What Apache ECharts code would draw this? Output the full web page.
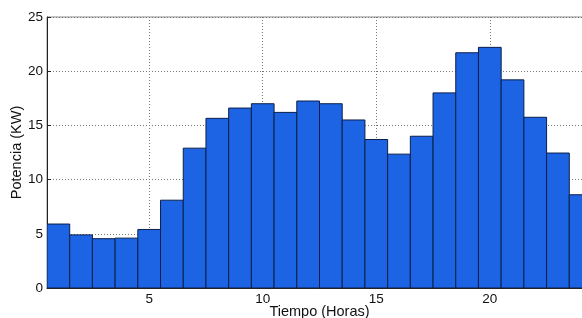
<!DOCTYPE html>
<html>
<head>
<meta charset="utf-8">
<script src="https://cdn.jsdelivr.net/npm/echarts@6/dist/echarts.min.js"></script>
<style>
  html, body { margin: 0; padding: 0; background: #fff; }
  #main { width: 582px; height: 318px; }
</style>
</head>
<body>
<div id="main"></div>
<script>
var hours = [1, 2, 3, 4, 5, 6, 7, 8, 9, 10, 11, 12, 13, 14, 15, 16, 17, 18, 19, 20, 21, 22, 23, 24];
var potencia = [5.9, 4.9, 4.55, 4.6, 5.4, 8.1, 12.9, 15.65, 16.6, 17.0, 16.2, 17.25, 17.0, 15.5, 13.7, 12.35, 14.0, 18.0, 21.7, 22.2, 19.2, 15.75, 12.45, 8.6];
var xTicks = [5, 10, 15, 20];

var chartDom = document.getElementById("main");
var myChart = echarts.init(chartDom);
var option;

var font = "Liberation Sans, Arial, Helvetica, sans-serif";

var data = hours.map(function (h, i) { return [h, potencia[i]]; });

option = {
  animation: false,
  grid: {
    left: 47, right: -10, top: 17, bottom: 30,
    containLabel: false, outerBoundsMode: "none",
    show: true, borderColor: "#8a8a8a", borderWidth: 1, backgroundColor: "transparent"
  },
  xAxis: {
    type: "value",
    min: 0.5,
    max: 24.5,
    interval: 5,
    name: "Tiempo (Horas)",
    nameLocation: "middle",
    nameGap: 16,
    nameMoveOverlap: false,
    nameTextStyle: { fontFamily: font, fontSize: 14.5, color: "#111" },
    axisLine: { show: true, onZero: false, lineStyle: { color: "#222", width: 1 } },
    axisTick: { show: true, inside: true, length: 4, lineStyle: { color: "#222" },
      customValues: xTicks },
    axisLabel: { fontFamily: font, fontSize: 13.5, color: "#111", margin: 4,
      customValues: xTicks },
    splitLine: { show: true, lineStyle: { color: "#777", type: [1, 2], width: 1 } }
  },
  yAxis: {
    type: "value",
    min: 0,
    max: 25,
    interval: 5,
    name: "Potencia (KW)",
    nameLocation: "middle",
    nameGap: 23,
    nameMoveOverlap: false,
    nameTextStyle: { fontFamily: font, fontSize: 14.5, color: "#111" },
    axisLine: { show: true, lineStyle: { color: "#222", width: 1 } },
    axisTick: { show: true, inside: true, length: 4, lineStyle: { color: "#222" } },
    axisLabel: { fontFamily: font, fontSize: 13.5, color: "#111", margin: 4 },
    splitLine: { show: true, lineStyle: { color: "#777", type: [1, 2], width: 1 } }
  },
  series: [
    {
      type: "custom",
      clip: true,
      data: data,
      renderItem: function (params, api) {
        var x = api.value(0);
        var y = api.value(1);
        var p0 = api.coord([x - 0.5, y]);
        var p1 = api.coord([x + 0.5, 0]);
        return {
          type: "rect",
          shape: { x: p0[0], y: p0[1], width: p1[0] - p0[0], height: p1[1] - p0[1] },
          style: { fill: "#1d64e5", stroke: "#0b1f4a", lineWidth: 1 }
        };
      }
    }
  ]
};

option && myChart.setOption(option);
</script>
</body>
</html>
